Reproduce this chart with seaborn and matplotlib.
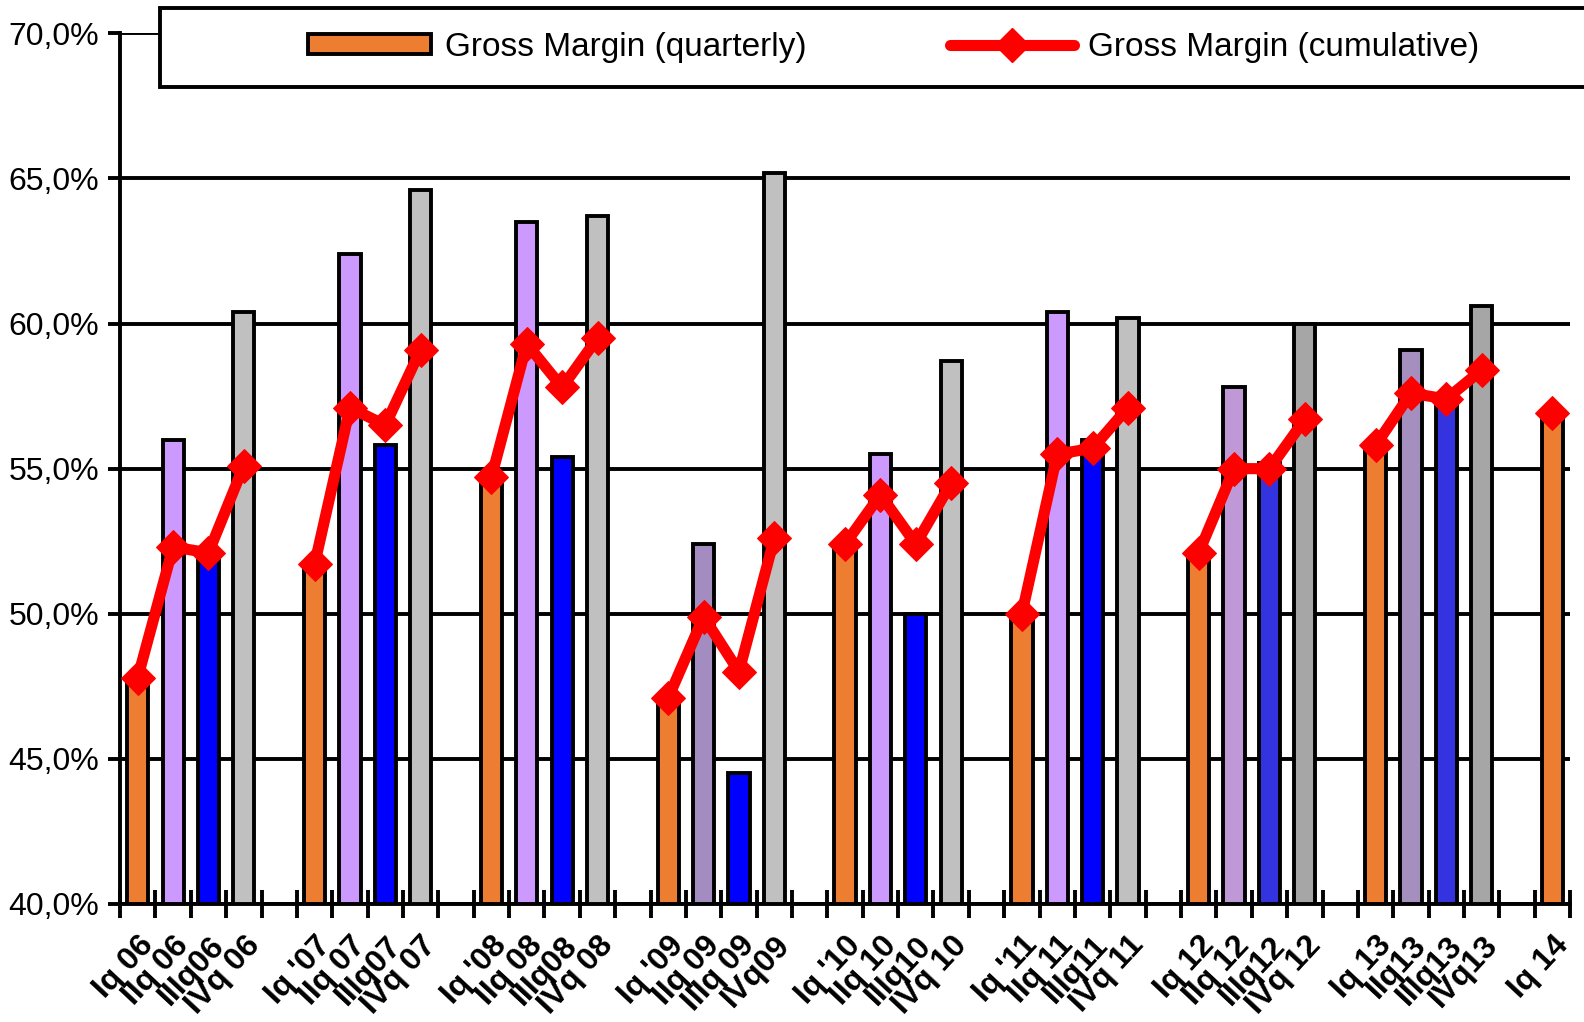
import numpy as np
import pandas as pd
import seaborn as sns
import matplotlib.pyplot as plt
from matplotlib.patches import Patch, Rectangle
from matplotlib.lines import Line2D
from matplotlib.ticker import FuncFormatter

# --- values ---
years = ["06", "07", "08", "09", "10", "11", "12", "13", "14"]
labels = [
    "Iq 06", "IIq 06", "IIIq06", "IVq 06",
    "Iq '07", "IIq 07", "IIIq07", "IVq 07",
    "Iq '08", "IIq 08", "IIIq08", "IVq 08",
    "Iq '09", "IIq 09", "IIIq 09", "IVq09",
    "Iq '10", "IIq 10", "IIIq10", "IVq 10",
    "Iq '11", "IIq 11", "IIIq11", "IVq 11",
    "Iq 12", "IIq 12", "IIIq12", "IVq 12",
    "Iq 13", "IIq13", "IIIq13", "IVq13",
    "Iq 14",
]
quarter = ["I", "II", "III", "IV"] * 8 + ["I"]
year = [y for y in years[:-1] for _ in range(4)] + ["14"]
quarterly = [47.8, 56.0, 52.0, 60.4,
             51.7, 62.4, 55.8, 64.6,
             54.7, 63.5, 55.4, 63.7,
             47.1, 52.4, 44.5, 65.2,
             52.4, 55.5, 50.0, 58.7,
             50.0, 60.4, 56.0, 60.2,
             52.1, 57.8, 55.2, 60.0,
             55.8, 59.1, 57.4, 60.6,
             56.9]
cumulative = [47.8, 52.3, 52.1, 55.1,
              51.7, 57.1, 56.5, 59.1,
              54.7, 59.3, 57.8, 59.5,
              47.1, 49.9, 48.0, 52.6,
              52.4, 54.1, 52.4, 54.5,
              50.0, 55.5, 55.7, 57.1,
              52.1, 55.0, 55.0, 56.7,
              55.8, 57.6, 57.4, 58.4,
              56.9]

df = pd.DataFrame({"label": labels, "quarter": quarter, "year": year,
                   "quarterly": quarterly, "cumulative": cumulative})

# category order: four quarters per year followed by an empty slot
order = []
for y in years:
    order += list(df.loc[df["year"] == y, "label"])
    if y != years[-1]:
        order.append(f"gap{y}")
df["pos"] = [order.index(l) for l in df["label"]]

# colours per quarter (2009/2012/2013 got slightly different shades)
base = {"I": "#ED7D31", "II": "#CC99FF", "III": "#0000FF", "IV": "#C0C0C0"}
special = {("II", "09"): "#A38CC0", ("II", "12"): "#BF99D6", ("II", "13"): "#A48FBF",
           ("III", "12"): "#3333E0", ("III", "13"): "#3333E0",
           ("IV", "12"): "#A6A6A6", ("IV", "13"): "#A6A6A6"}
palette = {r.label: special.get((r.quarter, r.year), base[r.quarter]) for r in df.itertuples()}

sns.set_theme(style="white")
plt.rcParams["font.family"] = ["Liberation Sans", "DejaVu Sans"]
for k in ["text.color", "axes.labelcolor", "xtick.color", "ytick.color"]:
    plt.rcParams[k] = "black"

fig = plt.figure(figsize=(15.84, 10.22), dpi=100)
ax = fig.add_axes([0.0758, 0.1155, 0.9154, 0.8519])

sns.barplot(data=df, x="label", y="quarterly", order=order, hue="label",
            palette=palette, dodge=False, legend=False, width=0.6,
            saturation=1, edgecolor="black", linewidth=2.8, ax=ax)

sns.lineplot(data=df, x="pos", y="cumulative", units="year", estimator=None,
             sort=False, color="red", lw=8, marker="D", ms=17, mec="red",
             ax=ax, zorder=5)

ax.set_xlim(-0.5, len(order) - 0.5)
ax.set_ylim(40, 70)
ax.set_xlabel("")
ax.set_ylabel("")

# y axis
ax.set_yticks(np.arange(40, 70.1, 5))
ax.yaxis.set_major_formatter(FuncFormatter(lambda v, p: f"{v:.1f}%".replace(".", ",")))
ax.tick_params(axis="y", direction="out", length=9, width=2.8, color="black",
               labelsize=23, pad=6, left=True)
ax.yaxis.grid(True, color="black", lw=2.8)
ax.set_axisbelow(True)

# x axis: labels at slot centres, tick marks at slot borders
ax.set_xticks(df["pos"])
ax.set_xticklabels(df["label"], rotation=47, ha="right", rotation_mode="anchor",
                   fontsize=23, fontweight="bold")
ax.tick_params(axis="x", which="major", length=0, pad=19)
ax.set_xticks(np.arange(-0.5, len(order), 1), minor=True)
ax.tick_params(axis="x", which="minor", direction="inout", length=20, width=2.8,
               color="black", bottom=True)

for s in ["top", "right"]:
    ax.spines[s].set_visible(False)
for s in ["left", "bottom"]:
    ax.spines[s].set_color("black")
    ax.spines[s].set_linewidth(2.8)

# legend box across the top
fig.add_artist(Rectangle((0.1008, 0.915), 0.95, 0.077, transform=fig.transFigure,
                         facecolor="white", edgecolor="black", lw=2.8, zorder=10))
handles = [Patch(facecolor=base["I"], edgecolor="black", lw=2.8),
           Line2D([], [], color="red", lw=8, marker="D", ms=17, mec="red")]
fig.legend(handles, ["Gross Margin (quarterly)", "Gross Margin (cumulative)"],
           loc="center left", bbox_to_anchor=(0.1944, 0.9535), ncol=2,
           frameon=False, fontsize=24, handlelength=3.7, handleheight=0.55,
           handletextpad=0.42, columnspacing=4.3, borderpad=0, borderaxespad=0,
           numpoints=1)
fig.legends[-1].set_zorder(11)

fig.savefig("out.png", dpi=100)
